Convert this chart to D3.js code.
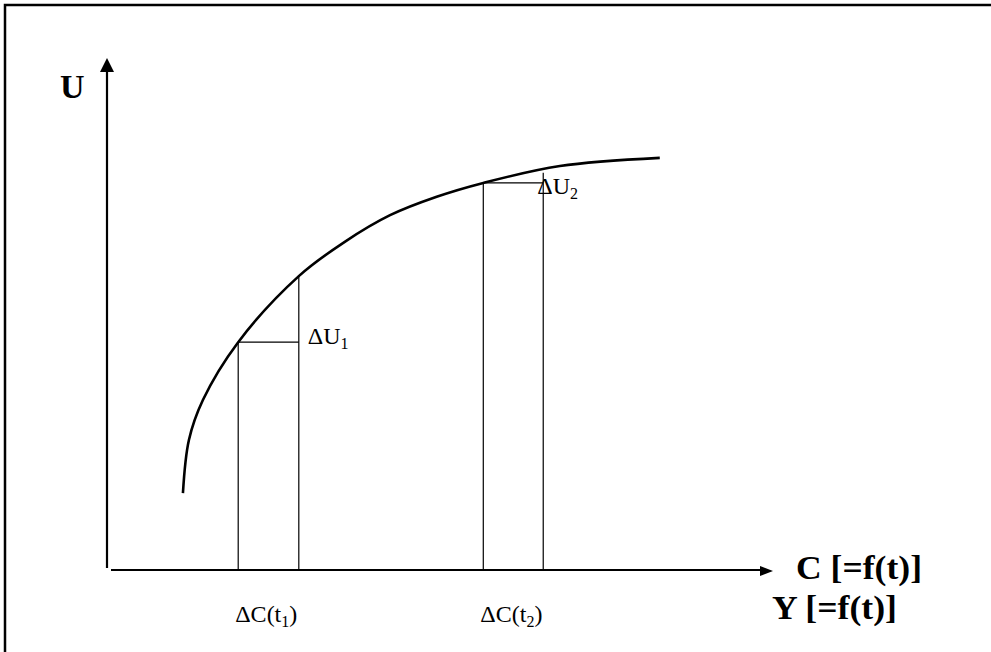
<!DOCTYPE html>
<html>
<head>
<meta charset="utf-8">
<script src="https://cdn.jsdelivr.net/npm/d3@7"></script>
<style>
  body { margin: 0; background: #fff; }
  svg text { font-family: "Liberation Serif", "Times New Roman", serif; fill: #000; }
</style>
</head>
<body>
<div id="chart"></div>
<script>
// curva di utilita' U in funzione del consumo C
const curveC = [11.4, 12.3, 14.4, 19.7, 28.8, 35.7, 42.5, 49.5, 56.5, 68.0, 83.0];
const curveU = [15.0, 25.4, 33.2, 44.5, 57.4, 64.1, 69.3, 72.9, 75.6, 78.9, 80.5];

// i due incrementi ΔC / ΔU
const stepC0 = [19.7, 56.5];
const stepC1 = [28.8, 65.5];
const stepU0 = [44.5, 75.6];
const stepU1 = [57.4, 77.6];
const stepIndex = ['1', '2'];

// etichette
const axisULabel = 'U';
const axisCLabel = 'C [=f(t)]';
const axisYLabel = 'Y [=f(t)]';

const W = 991, H = 652;

const svg = d3.select('#chart')
    .append('svg')
    .attr('width', W)
    .attr('height', H);

// cornice esterna
svg.append('rect')
    .attr('x', 5).attr('y', 5)
    .attr('width', W).attr('height', H)
    .attr('fill', 'none')
    .attr('stroke', '#000')
    .attr('stroke-width', 2.5);

// scale
const x = d3.scaleLinear().domain([0, 100]).range([107, 773]);
const y = d3.scaleLinear().domain([0, 100]).range([570, 58]);

// asse verticale con freccia
svg.append('line')
    .attr('x1', x(0)).attr('x2', x(0))
    .attr('y1', y(0) - 2).attr('y2', y(100) + 12)
    .attr('stroke', '#000').attr('stroke-width', 2.2);
svg.append('path')
    .attr('d', `M${x(0)},${y(100)} L${x(0) - 7},${y(100) + 14} L${x(0) + 7},${y(100) + 14} Z`)
    .attr('fill', '#000');

// asse orizzontale con freccia
svg.append('line')
    .attr('x1', x(0) + 4).attr('x2', x(100) - 12)
    .attr('y1', y(0)).attr('y2', y(0))
    .attr('stroke', '#000').attr('stroke-width', 2.2);
svg.append('path')
    .attr('d', `M${x(100)},${y(0) + 1} L${x(100) - 13},${y(0) - 4} L${x(100) - 13},${y(0) + 6} Z`)
    .attr('fill', '#000');

// rettangoli degli incrementi
const steps = stepC0.map((c, i) => ({ c0: c, c1: stepC1[i], u0: stepU0[i], u1: stepU1[i], k: stepIndex[i] }));

const g = svg.append('g')
    .attr('stroke', '#000')
    .attr('stroke-width', 1.2)
    .attr('fill', 'none');

steps.forEach(s => {
    g.append('line')
        .attr('x1', x(s.c0)).attr('x2', x(s.c0))
        .attr('y1', y(s.u0)).attr('y2', y(0));
    g.append('line')
        .attr('x1', x(s.c0)).attr('x2', x(s.c1))
        .attr('y1', y(s.u0)).attr('y2', y(s.u0));
    g.append('line')
        .attr('x1', x(s.c1)).attr('x2', x(s.c1))
        .attr('y1', y(s.u1)).attr('y2', y(0));
});

// curva
const line = d3.line()
    .x(d => x(d[0]))
    .y(d => y(d[1]))
    .curve(d3.curveCatmullRom.alpha(0.5));

svg.append('path')
    .datum(curveC.map((c, i) => [c, curveU[i]]))
    .attr('d', line)
    .attr('fill', 'none')
    .attr('stroke', '#000')
    .attr('stroke-width', 2.6);

// etichette ΔU
const dU = svg.selectAll('.du')
    .data(steps)
    .join('text')
    .attr('class', 'du')
    .attr('x', (d, i) => i === 0 ? x(d.c1) + 9 : x(d.c1) - 6)
    .attr('y', (d, i) => i === 0 ? y(d.u0) + 2 : y(d.u0) + 11)
    .attr('font-size', 24);
dU.append('tspan').text('\u0394U');
dU.append('tspan').attr('font-size', 16).attr('dy', 5).text(d => d.k);

// etichette ΔC(t)
const dC = svg.selectAll('.dc')
    .data(steps)
    .join('text')
    .attr('class', 'dc')
    .attr('x', d => x(d.c0) - 3)
    .attr('y', 622)
    .attr('font-size', 24);
dC.append('tspan').text('\u0394C(t');
dC.append('tspan').attr('font-size', 16).attr('dy', 5).text(d => d.k);
dC.append('tspan').attr('dy', -5).text(')');

// etichette degli assi
svg.append('text')
    .attr('x', 60).attr('y', 98)
    .attr('font-size', 34)
    .attr('font-weight', 'bold')
    .text(axisULabel);

svg.append('text')
    .attr('x', 796).attr('y', 579)
    .attr('font-size', 33)
    .attr('font-weight', 'bold')
    .attr('textLength', 126)
    .attr('lengthAdjust', 'spacingAndGlyphs')
    .text(axisCLabel);

svg.append('text')
    .attr('x', 772).attr('y', 619)
    .attr('font-size', 33)
    .attr('font-weight', 'bold')
    .attr('textLength', 125)
    .attr('lengthAdjust', 'spacingAndGlyphs')
    .text(axisYLabel);
</script>
</body>
</html>
